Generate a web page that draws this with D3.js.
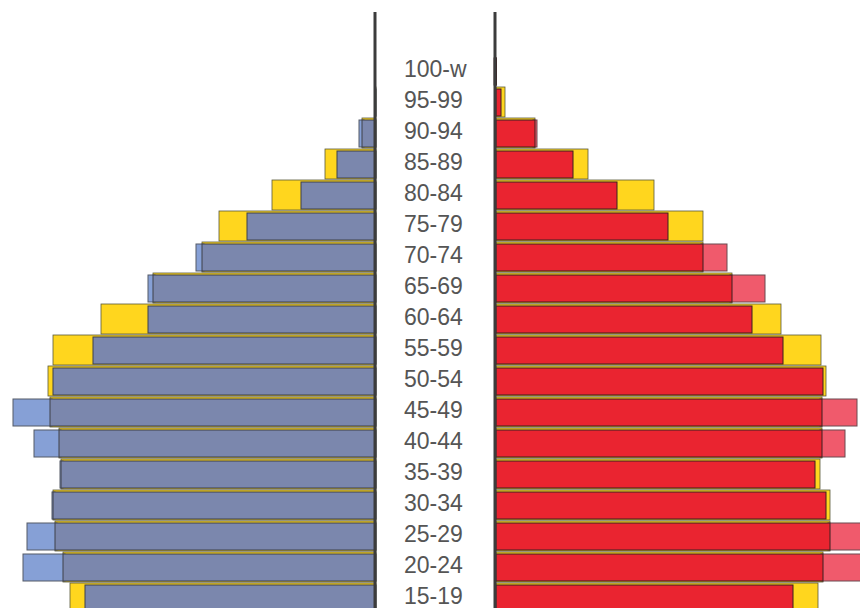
<!DOCTYPE html>
<html>
<head>
<meta charset="utf-8">
<script src="https://cdn.jsdelivr.net/npm/d3@7"></script>
<style>
  html, body { margin: 0; padding: 0; background: #fff; }
  svg { display: block; }
</style>
</head>
<body>
<svg id="chart" width="860" height="608"></svg>
<script>
// Age groups (top to bottom)
const ageGroups = ["100-w","95-99","90-94","85-89","80-84","75-79","70-74","65-69","60-64",
                   "55-59","50-54","45-49","40-44","35-39","30-34","25-29","20-24","15-19"];
// Men, comparison year (yellow)
const menRef   = [0, 1, 14, 51, 104, 157, 174, 223, 275, 323, 328, 326, 317, 315, 323, 321, 313, 306];
// Men, current year (blue)
const menCur   = [0, 1, 17, 39, 75, 129, 180, 228, 228, 283, 323, 363, 342, 316, 324, 349, 353, 291];
// Women, comparison year (yellow)
const womenRef = [0, 9, 39, 92, 158, 207, 207, 236, 285, 325, 330, 326, 326, 324, 334, 334, 327, 322];
// Women, current year (red)
const womenCur = [0.5, 5, 41, 77, 121, 172, 231, 269, 256, 287, 327, 361, 349, 319, 330, 375, 370, 297];

const svg = d3.select("#chart");
const leftAxisX = 375, rightAxisX = 495;
const leftStart = 376, rightStart = 496;

const len = d3.scaleLinear().domain([0, 400]).range([0, 400]);
const y = d3.scaleBand().domain(ageGroups).range([56, 56 + 31 * ageGroups.length]).paddingInner(0).paddingOuter(0);

const colors = {
  yellow: "#ffd61e",
  blue: "#7b87ad",
  blueLight: "#86a0d6",
  red: "#ea2430",
  redLight: "#f05a6c"
};

const rows = ageGroups.map((a, i) => ({
  age: a, mRef: menRef[i], mCur: menCur[i], wRef: womenRef[i], wCur: womenCur[i]
}));

// ---- Left side (men) ----
const left = svg.append("g");
left.selectAll("rect.yl").data(rows.filter(d => d.mRef > 0)).join("rect")
  .attr("x", d => leftStart - len(d.mRef)).attr("y", d => y(d.age))
  .attr("width", d => len(d.mRef)).attr("height", 30)
  .attr("fill", colors.yellow).attr("stroke", "#5a5a3a").attr("stroke-width", 0.8);
left.selectAll("rect.bl").data(rows.filter(d => d.mCur > d.mRef)).join("rect")
  .attr("x", d => leftStart - len(d.mCur)).attr("y", d => y(d.age) + 2)
  .attr("width", d => len(d.mCur) - len(d.mRef) + 2).attr("height", 27)
  .attr("fill", colors.blueLight).attr("stroke", "#555a66").attr("stroke-width", 1);
left.selectAll("rect.bm").data(rows.filter(d => d.mCur > 0)).join("rect")
  .attr("x", d => leftStart - len(Math.min(d.mCur, d.mRef))).attr("y", d => y(d.age) + 2)
  .attr("width", d => len(Math.min(d.mCur, d.mRef))).attr("height", 27)
  .attr("fill", colors.blue).attr("stroke", "#3e4048").attr("stroke-width", 1);

// ---- Right side (women) ----
const right = svg.append("g");
right.selectAll("rect.yr").data(rows.filter(d => d.wRef > 0)).join("rect")
  .attr("x", rightStart).attr("y", d => y(d.age))
  .attr("width", d => len(d.wRef)).attr("height", 30)
  .attr("fill", colors.yellow).attr("stroke", "#5a5a3a").attr("stroke-width", 0.8);
right.selectAll("rect.rl").data(rows.filter(d => d.wCur > d.wRef)).join("rect")
  .attr("x", d => rightStart + len(d.wRef) - 2).attr("y", d => y(d.age) + 2)
  .attr("width", d => len(d.wCur) - len(d.wRef) + 2).attr("height", 27)
  .attr("fill", colors.redLight).attr("stroke", "#6a4a50").attr("stroke-width", 1);
right.selectAll("rect.rm").data(rows.filter(d => d.wCur > 0)).join("rect")
  .attr("x", rightStart).attr("y", d => y(d.age) + 2)
  .attr("width", d => len(Math.min(d.wCur, d.wRef || d.wCur))).attr("height", 27)
  .attr("fill", colors.red).attr("stroke", "#3a2020").attr("stroke-width", 1);

// ---- Central axis lines ----
svg.append("line").attr("x1", leftAxisX).attr("x2", leftAxisX).attr("y1", 12).attr("y2", 608)
  .attr("stroke", "#3c3c3c").attr("stroke-width", 3);
svg.append("line").attr("x1", rightAxisX).attr("x2", rightAxisX).attr("y1", 12).attr("y2", 608)
  .attr("stroke", "#3c3c3c").attr("stroke-width", 3);

// ---- Age labels ----
svg.append("g").selectAll("text").data(ageGroups).join("text")
  .attr("x", 404).attr("y", d => y(d) + 12.5)
  .attr("dy", "0.35em")
  .attr("font-family", "'Liberation Sans', Arial, sans-serif")
  .attr("font-size", 23)
  .attr("fill", "#555")
  .text(d => d);
</script>
</body>
</html>
